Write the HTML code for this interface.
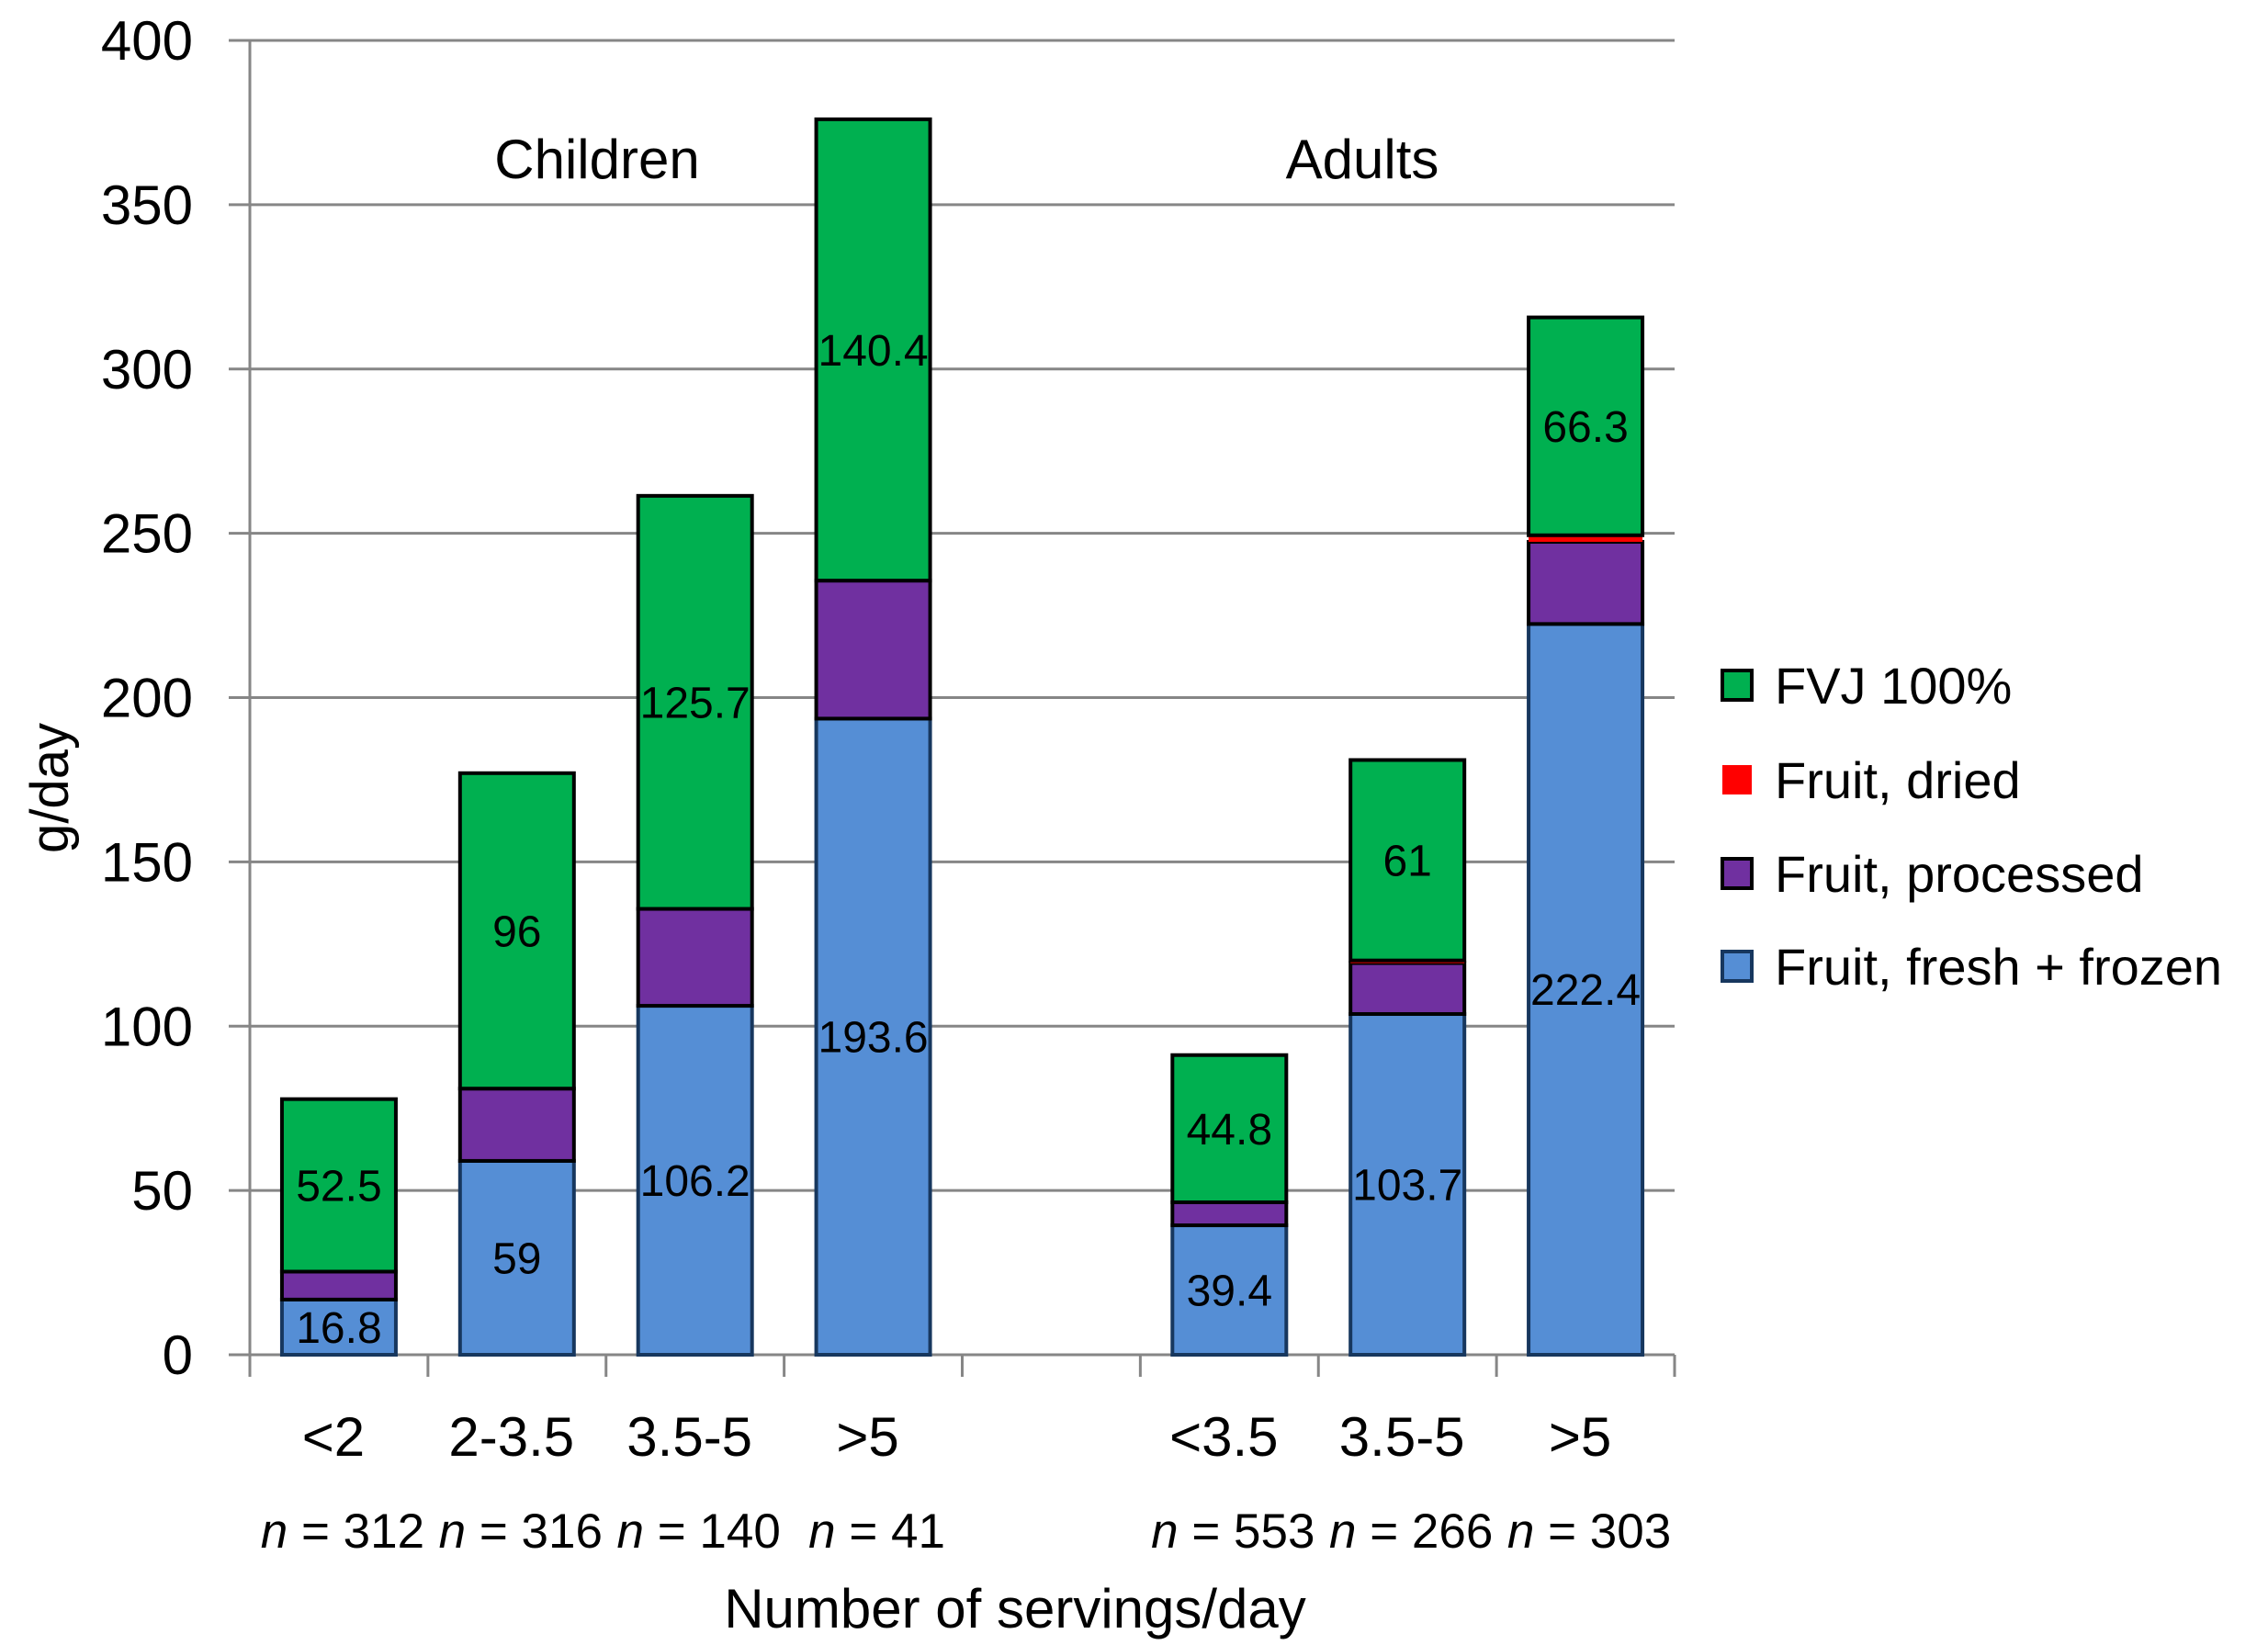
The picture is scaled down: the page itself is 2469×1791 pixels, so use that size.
<!DOCTYPE html>
<html><head><meta charset="utf-8">
<style>
html,body{margin:0;padding:0;background:#fff;}
svg{display:block;font-family:"Liberation Sans",sans-serif;}
</style></head>
<body>
<svg id="chart" width="2469" height="1791" viewBox="0 0 2469 1791" xmlns="http://www.w3.org/2000/svg"></svg>
<script>
const categories = ["<2","2-3.5","3.5-5",">5","","<3.5","3.5-5",">5"];
const nLabels = ["312","316","140","41","","553","266","303"];
const freshFrozen = [16.8,59,106.2,193.6,null,39.4,103.7,222.4];
const processed = [8.5,22,29.5,42,null,7,15.5,25];
const dried = [0,0,0,0,null,0,0.8,2];
const fvj = [52.5,96,125.7,140.4,null,44.8,61,66.3];
const yTicks = [0,50,100,150,200,250,300,350,400];

const svg = document.getElementById('chart');
const NS = 'http://www.w3.org/2000/svg';
const X0 = 272, X1 = 1823, Y0 = 1475, Y400 = 44;
const catW = (X1 - X0) / categories.length;
const barW = 124;
function y(v){ return Y0 - (v/400)*(Y0-Y400); }
function xc(i){ return X0 + catW*(i+0.5); }
function mk(tag, attrs, parent){
  const e = document.createElementNS(NS, tag);
  for (const k in attrs) e.setAttribute(k, attrs[k]);
  (parent||svg).appendChild(e);
  return e;
}
yTicks.forEach(t=>{
  const l = mk('line',{x1:249,x2:X1,y1:y(t),y2:y(t),stroke:'#868686','stroke-width':3});
  
  
  const tx = mk('text',{x:210,y:y(t)+21,'font-size':60,'text-anchor':'end',fill:'#000'});
  tx.textContent = t;
  
  
});
const ya = mk('line',{x1:X0,x2:X0,y1:Y400,y2:Y0,stroke:'#868686','stroke-width':3});


for(let i=0;i<=categories.length;i++){
  const t = mk('line',{x1:X0+catW*i,x2:X0+catW*i,y1:Y0,y2:1499,stroke:'#868686','stroke-width':3});
  
  
}
const series = [
  {vals:freshFrozen, fill:'#558ED5', stroke:'#17375E', name:'fresh-frozen', label:true},
  {vals:processed, fill:'#7030A0', stroke:'#000', name:'processed', label:false},
  {vals:dried, fill:'#FF0000', stroke:'none', name:'dried', label:false},
  {vals:fvj, fill:'#00B050', stroke:'#000', name:'fvj', label:true}
];
categories.forEach((c,i)=>{
  if (freshFrozen[i]===null) return;
  let base = 0;
  series.forEach(s=>{
    const v = s.vals[i];
    if (v > 0){
      const r = mk('rect',{x:xc(i)-barW/2,y:y(base+v),width:barW,height:y(base)-y(base+v),fill:s.fill,stroke:s.stroke,'stroke-width':s.stroke==='none'?0:4});
      
      
      if (s.label){
        const t = mk('text',{x:xc(i),y:(y(base)+y(base+v))/2+17,'font-size':48,'text-anchor':'middle',fill:'#000'});
        t.textContent = v;
        
        
      }
    }
    base += v;
  });
});
categories.forEach((c,i)=>{
  if (!c) return;
  const t = mk('text',{x:xc(i)-6,y:1585,'font-size':60,'text-anchor':'middle',fill:'#000'});
  t.textContent = c;
  
  
  const n = mk('text',{x:xc(i)+4,y:1685,'font-size':53,'text-anchor':'middle',fill:'#000'});
  const it = mk('tspan',{'font-style':'italic'},n); it.textContent='n';
  const rest = mk('tspan',{},n); rest.textContent=' = '+nLabels[i];
  
  
});
[['Children',650],['Adults',1483]].forEach(([s,x])=>{
  const t = mk('text',{x:x,y:194,'font-size':60,'text-anchor':'middle',fill:'#000'});
  t.textContent = s;
  
  
});
const xt = mk('text',{x:1105,y:1772,'font-size':60,'text-anchor':'middle',fill:'#000'});
xt.textContent='Number of servings/day';


const yt = mk('text',{x:0,y:0,'font-size':58,'text-anchor':'middle',fill:'#000',transform:'translate(74,858) rotate(-90)'});
yt.textContent='g/day';


const legend = [['FVJ 100%','#00B050','#000',746],['Fruit, dried','#FF0000','none',849],['Fruit, processed','#7030A0','#000',951],['Fruit, fresh + frozen','#558ED5','#17375E',1052]];
legend.forEach(([lab,f,s,cy],k)=>{
  const g = mk('g',{});
  
  
  mk('rect',{x:1875,y:cy-16,width:32,height:32,fill:f,stroke:s,'stroke-width':s==='none'?0:4},g);
  const t = mk('text',{x:1932,y:cy+20,'font-size':56,fill:'#000'},g);
  t.textContent = lab;
});
</script>
</body></html>
